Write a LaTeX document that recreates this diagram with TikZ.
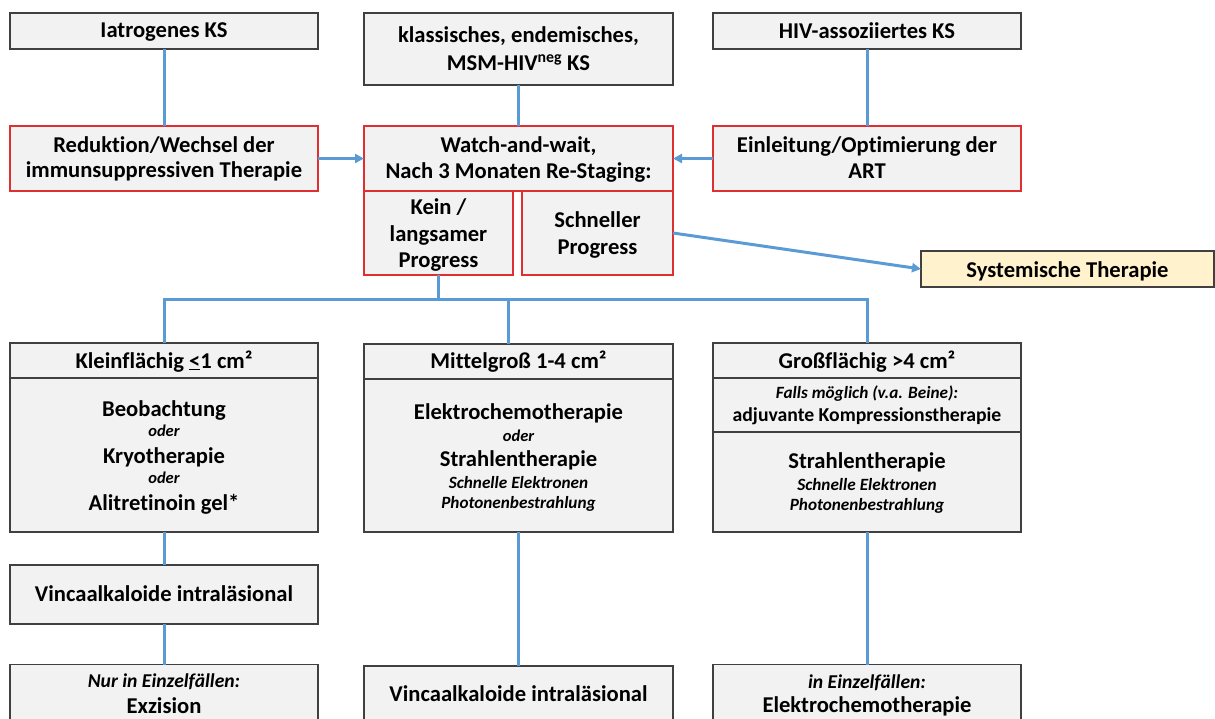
\documentclass[tikz,border=0pt]{standalone}
\usepackage{fontspec}
\setmainfont{Carlito}[RawFeature={-liga,-clig,-dlig}]
\usetikzlibrary{arrows.meta}
\definecolor{connc}{RGB}{91,155,213}
\definecolor{boxfill}{RGB}{242,242,242}
\definecolor{boxline}{RGB}{64,64,64}
\definecolor{redline}{RGB}{222,48,48}
\definecolor{sysfill}{RGB}{255,242,204}
\begin{document}
\begin{tikzpicture}[x=1pt,y=-1pt,
  gbox/.style={draw=boxline, fill=boxfill, line width=1.4pt, inner sep=0pt, outer sep=0pt},
  rbox/.style={draw=redline, fill=boxfill, line width=1.4pt, inner sep=0pt, outer sep=0pt},
  ybox/.style={draw=boxline, fill=sysfill, line width=1.4pt, inner sep=0pt, outer sep=0pt},
  link/.style={draw=connc, line width=3pt},
  arrowlink/.style={link, -{Triangle[length=9pt,width=9pt]}},
  tb/.style={anchor=base, inner sep=0pt, font=\fontsize{22.6}{26}\selectfont\bfseries},
  tbs/.style={anchor=base, inner sep=0pt, font=\fontsize{19.7}{23}\selectfont\bfseries},
  ti/.style={anchor=base, inner sep=0pt, font=\fontsize{16.5}{19}\selectfont\bfseries\itshape},
  tis/.style={anchor=base, inner sep=0pt, font=\fontsize{17.2}{20}\selectfont\bfseries\itshape},
  tim/.style={anchor=base, inner sep=0pt, font=\fontsize{19.6}{22}\selectfont\bfseries\itshape}
]
\useasboundingbox (0,0) rectangle (1215,718);
\clip (0,0) rectangle (1215,718);

% ---------- top boxes ----------
\node[gbox, minimum width=308, minimum height=36] (iat) at (164,31) {};
\node[gbox, minimum width=309, minimum height=72] (kla) at (518.5,49) {};
\node[gbox, minimum width=308, minimum height=36] (hiv) at (867,31) {};

\node[rbox, minimum width=308, minimum height=65] (red) at (164,158.5) {};
\node[rbox, minimum width=309, minimum height=65] (wat) at (518.5,158.5) {};
\node[rbox, minimum width=308, minimum height=65] (ein) at (867,158.5) {};
\node[rbox, minimum width=149, minimum height=84] (kein) at (438.5,233) {};
\node[rbox, minimum width=151, minimum height=84] (schn) at (597.5,233) {};
\node[ybox, minimum width=293, minimum height=36] (sys) at (1067.5,269) {};

% ---------- lower boxes ----------
\node[gbox, minimum width=308, minimum height=35] (kh) at (164,360.5) {};
\node[gbox, minimum width=308, minimum height=154] (kb) at (164,455) {};
\node[gbox, minimum width=309, minimum height=35] (mh) at (518.5,361.5) {};
\node[gbox, minimum width=309, minimum height=153] (mb) at (518.5,455.5) {};
\node[gbox, minimum width=308, minimum height=35] (gh) at (867,360.5) {};
\node[gbox, minimum width=308, minimum height=54] (gc) at (867,405) {};
\node[gbox, minimum width=308, minimum height=100] (gb) at (867,482) {};

\node[gbox, minimum width=308, minimum height=59] (lv) at (164,594.5) {};
\node[gbox, minimum width=308, minimum height=95] (le) at (164,712) {};
\node[gbox, minimum width=309, minimum height=95] (mv) at (518.5,713.5) {};
\node[gbox, minimum width=308, minimum height=95] (re) at (867,712) {};

% ---------- connectors ----------
\coordinate (bus) at (0,299);
\coordinate (mj) at (508,299);
\draw[link] (iat.south) -- (red.north);
\draw[link] (kla.south) -- (wat.north);
\draw[link] (hiv.south) -- (ein.north);
\draw[arrowlink] (red.east) -- (wat.west);
\draw[arrowlink] (ein.west) -- (wat.east);
\draw[arrowlink] (schn.east) -- (sys.west);
\draw[link] (kein.south) -- (kein.south |- bus);
\draw[link] (kh.north) -- (kh.north |- bus) -- (gh.north |- bus) -- (gh.north);
\draw[link] (mj) -- (mj |- mh.north);
\draw[link] (kb.south) -- (lv.north);
\draw[link] (lv.south) -- (le.north);
\draw[link] (mb.south) -- (mv.north);
\draw[link] (gb.south) -- (re.north);

% ---------- texts ----------
\node[tb] (t1) at (164,37.5) {Iatrogenes KS};
\node[tb] (t2) at (518.5,42.5) {klassisches, endemisches,};
\node[tb] (t3) at (518.5,70) {MSM-HIV\textsuperscript{neg} KS};
\node[tb] (t4) at (867,38) {HIV-assoziiertes KS};

\node[tb] (t5) at (164,152) {Reduktion/Wechsel der};
\node[tb] (t6) at (164,177.5) {immunsuppressiven Therapie};
\node[tb] (t7) at (518.5,152) {Watch-and-wait,};
\node[tb] (t8) at (518.5,178.5) {Nach 3 Monaten Re-Staging:};
\node[tb] (t9) at (867,152) {Einleitung/Optimierung der};
\node[tb] (t10) at (867,178.5) {ART};
\node[tb] (t11) at (438.5,214) {Kein /};
\node[tb] (t12) at (438.5,241) {langsamer};
\node[tb] (t13) at (438.5,267.5) {Progress};
\node[tb] (t14) at (597.5,227) {Schneller};
\node[tb] (t15) at (597.5,254) {Progress};
\node[tb] (t16) at (1067.5,277) {Systemische Therapie};

\node[tb] (t17) at (164,368) {Kleinflächig \underline{<}1 cm²};
\node[tb] (t18) at (164,416) {Beobachtung};
\node[ti] (t19) at (164,436) {oder};
\node[tb] (t20) at (164,463) {Kryotherapie};
\node[ti] (t21) at (164,483) {oder};
\node[tb] (t22) at (164,510.5) {Alitretinoin gel*};

\node[tb] (t23) at (518.5,368.5) {Mittelgroß 1-4 cm²};
\node[tb] (t24) at (518.5,419) {Elektrochemotherapie};
\node[ti] (t25) at (518.5,441) {oder};
\node[tb] (t26) at (518.5,466.5) {Strahlentherapie};
\node[tis] (t27) at (518.5,488) {Schnelle Elektronen};
\node[tis] (t28) at (518.5,508) {Photonenbestrahlung};

\node[tb] (t29) at (867,368) {Großflächig >4 cm²};
\node[tis] (t30) at (867,398) {Falls möglich (v.a. Beine):};
\node[tbs] (t31) at (867,421.5) {adjuvante Kompressionstherapie};
\node[tb] (t32) at (867,468) {Strahlentherapie};
\node[tis] (t33) at (867,490.5) {Schnelle Elektronen};
\node[tis] (t34) at (867,510.5) {Photonenbestrahlung};

\node[tb] (t35) at (164,601.5) {Vincaalkaloide intraläsional};
\node[tim] (t36) at (164,687) {Nur in Einzelfällen:};
\node[tb] (t37) at (164,713) {Exzision};
\node[tb] (t38) at (518.5,701.5) {Vincaalkaloide intraläsional};
\node[tim] (t39) at (867,688) {in Einzelfällen:};
\node[tb] (t40) at (867,712.5) {Elektrochemotherapie};
\end{tikzpicture}
\end{document}
